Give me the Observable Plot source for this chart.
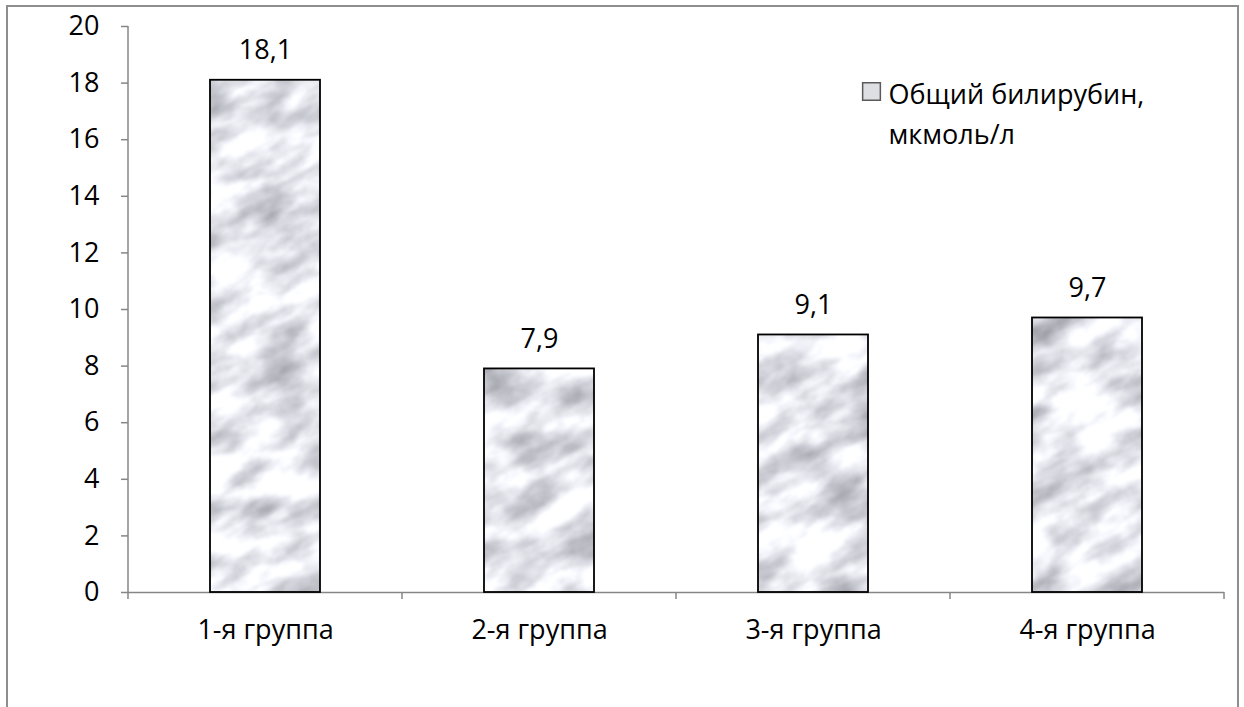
<!DOCTYPE html>
<html>
<head>
<meta charset="utf-8">
<script src="https://cdn.jsdelivr.net/npm/d3@7"></script>
<script src="https://cdn.jsdelivr.net/npm/@observablehq/plot@0.6"></script>
<style>
  html, body { margin: 0; padding: 0; background: #fff; }
  #chart { position: relative; width: 1244px; height: 707px; overflow: hidden; }
  #chart .frame { position: absolute; left: 6px; top: 5px; width: 1233px; height: 760px;
                  border: 2px solid #8e8e8e; box-sizing: border-box; }
  #chart svg { position: absolute; left: 0; top: 0; }
</style>
</head>
<body>
<div id="chart"><div class="frame"></div></div>
<script>
// Total bilirubin by patient group
const groups = ["1-я группа", "2-я группа", "3-я группа", "4-я группа"];
const bilirubin = [18.1, 7.9, 9.1, 9.7];
const yTicks = [0, 2, 4, 6, 8, 10, 12, 14, 16, 18, 20];
const legendLines = ["Общий билирубин,", "мкмоль/л"];

const axisColor = "#868686";
const fontSize = 27;
const data = groups.map((group, i) => ({group, value: bilirubin[i]}));
const fmtValue = v => String(v).replace(".", ",");

// Soft grey marble texture used as the bar fill; one large rotated tile
function marbleDefs() {
  const tileW = 1400, tileH = 1200;
  const defs = d3.create("svg:defs");
  const f = defs.append("filter")
    .attr("id", "marble-noise")
    .attr("filterUnits", "userSpaceOnUse")
    .attr("x", 0).attr("y", 0).attr("width", tileW).attr("height", tileH)
    .attr("color-interpolation-filters", "sRGB");
  f.append("feTurbulence")
    .attr("type", "fractalNoise")
    .attr("baseFrequency", "0.016 0.034")
    .attr("numOctaves", 6)
    .attr("seed", 23)
    .attr("result", "noise");
  f.append("feColorMatrix")
    .attr("in", "noise")
    .attr("type", "matrix")
    .attr("values", "-0.72 0 0 0 1.26  -0.72 0 0 0 1.265  -0.7 0 0 0 1.28  0 0 0 0 1")
    .attr("result", "tone");
  f.append("feGaussianBlur").attr("in", "tone").attr("stdDeviation", 0.8);
  const p = defs.append("pattern")
    .attr("id", "marble")
    .attr("patternUnits", "userSpaceOnUse")
    .attr("patternTransform", "rotate(-28)")
    .attr("x", -200).attr("y", 0).attr("width", tileW).attr("height", tileH);
  p.append("rect")
    .attr("width", tileW).attr("height", tileH)
    .attr("fill", "#fff")
    .attr("filter", "url(#marble-noise)");
  return defs.node();
}

// Vertical axis line and category divider ticks on the baseline
function axisLines(index, scales, values, dim) {
  const g = d3.create("svg:g")
    .attr("stroke", axisColor).attr("stroke-width", 1.5).attr("fill", "none");
  const x0 = dim.marginLeft, x1 = dim.width - dim.marginRight;
  const yBase = scales.y(0), yTop = scales.y(yTicks[yTicks.length - 1]);
  g.append("line").attr("x1", x0).attr("x2", x0).attr("y1", yTop).attr("y2", yBase + 7);
  const step = (x1 - x0) / groups.length;
  for (let i = 1; i <= groups.length; ++i) {
    const x = x0 + i * step;
    g.append("line").attr("x1", x).attr("x2", x).attr("y1", yBase).attr("y2", yBase + 7);
  }
  return g.node();
}

const chart = Plot.plot({
  width: 1244,
  height: 707,
  marginLeft: 128,
  marginRight: 20,
  marginTop: 26,
  marginBottom: 115,
  style: {fontFamily: "'Open Sans', sans-serif", fontSize: `${fontSize}px`, color: "#000", background: "transparent"},
  x: {domain: groups, paddingInner: 0.6, paddingOuter: 0.3},
  y: {domain: [0, 20]},
  marks: [
    marbleDefs,
    Plot.axisY({ticks: yTicks, tickSize: 7, tickPadding: 22, stroke: axisColor, strokeWidth: 1.5,
                fontSize, tickFormat: d => String(d), label: null}),
    Plot.axisX({tickSize: 0, tickPadding: 27, fontSize, label: null}),
    Plot.ruleY([0], {stroke: axisColor, strokeWidth: 1.5}),
    axisLines,
    Plot.barY(data, {x: "group", y: "value", fill: "url(#marble)", stroke: "#000", strokeWidth: 1.8}),
    Plot.text(data, {x: "group", y: "value", text: d => fmtValue(d.value), dy: -30, fontSize}),
    Plot.dot([legendLines[0]], {frameAnchor: "top-right", dx: -353, dy: 65, symbol: "square", r: 10,
                                fill: "#dedfe2", stroke: "#5a5a5a", strokeWidth: 1.5}),
    Plot.text([legendLines.join("\n")], {frameAnchor: "top-right", dx: -336, dy: 85, fontSize,
                                         textAnchor: "start", lineAnchor: "middle", lineHeight: 1.48})
  ]
});

document.getElementById("chart").appendChild(chart);
</script>
</body>
</html>
